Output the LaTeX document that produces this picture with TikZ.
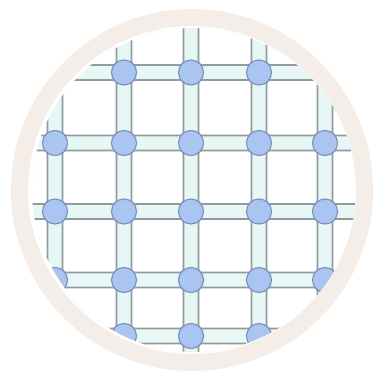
\documentclass[tikz,border=0pt]{standalone}
\definecolor{chanc}{RGB}{230,247,245}
\definecolor{edgec}{RGB}{145,154,156}
\definecolor{dotf}{RGB}{170,197,242}
\definecolor{dotd}{RGB}{122,143,186}
\definecolor{ringc}{RGB}{245,237,232}
\tikzset{
  cell/.style={fill=white,draw=edgec,line width=1.7pt,rounded corners=3pt},
  dot/.style={circle,fill=dotf,draw=dotd,line width=1.1pt,minimum size=25pt,inner sep=0pt},
}
\begin{document}
\begin{tikzpicture}[x=1pt,y=-1pt]
\useasboundingbox[fill=white] (0,0) rectangle (382,379);
\begin{scope}
  \clip (194,190) circle[radius=162pt];
  \fill[chanc] (0,0) rectangle (382,379);
  \foreach \xa/\xb in {-60/47.5, 62.5/116.5, 131.5/183.5, 198.5/251.5, 266.5/317.5, 332.5/440}
    \foreach \ya/\yb in {-60/65, 80/135.5, 150.5/204, 219/272.5, 287.5/328.5, 343.5/440}
      \draw[cell] (\xa,\ya) rectangle (\xb,\yb);
  \node[dot] (a2) at (124,72.5) {};
  \node[dot] (a3) at (191,72.5) {};
  \node[dot] (a4) at (259,72.5) {};
  \foreach \r/\y in {b/143, c/211.5, d/280}
    \foreach \c/\x in {1/55, 2/124, 3/191, 4/259, 5/325}
      \node[dot] (\r\c) at (\x,\y) {};
  \node[dot] (e2) at (124,336) {};
  \node[dot] (e3) at (191,336) {};
  \node[dot] (e4) at (259,336) {};
\end{scope}
\fill[ringc,even odd rule] (192,190) circle[radius=181pt] circle[radius=164pt];
\end{tikzpicture}
\end{document}
